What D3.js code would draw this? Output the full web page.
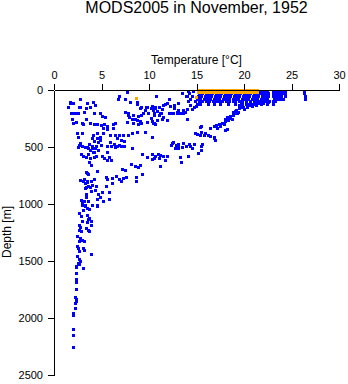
<!DOCTYPE html>
<html>
<head>
<meta charset="utf-8">
<script src="https://cdn.jsdelivr.net/npm/d3@7"></script>
<style>
  body { margin: 0; background: #fff; }
  svg { display: block; font-family: "Liberation Sans", Arial, sans-serif; }
</style>
</head>
<body>
<div id="chart"></div>
<script>
// 图表标题与坐标轴
const title = "MODS2005 in November, 1952";
const xLabel = "Temperature [°C]";
const yLabel = "Depth [m]";
const tempTicks = [0, 5, 10, 15, 20, 25, 30];
const depthTicks = [0, 500, 1000, 1500, 2000, 2500];

// 表层密集区: [depth, [temperatures...]]
const surfaceRows = [
  [5, [14.1, 14.6, 21.5, 21.8, 22.1, 22.4, 23.1, 23.4, 23.7, 24.0, 24.3, 26.3]],
  [25, [14.2, 15.3, 15.6, 16.0, 16.3, 16.6, 17.0, 17.3, 17.6, 18.0, 18.3, 18.6, 19.0, 19.3, 19.6, 20.0, 20.3, 20.6, 21.0, 21.3, 21.6, 21.9, 22.2, 22.5, 23.1, 23.4, 23.7, 24.0, 24.3, 26.3]],
  [50, [14.0, 14.5, 15.2, 15.5, 15.9, 16.2, 16.5, 16.9, 17.2, 17.5, 17.9, 18.2, 18.5, 18.9, 19.2, 19.5, 19.9, 20.2, 20.5, 20.9, 21.2, 21.5, 21.9, 22.2, 22.5, 23.0, 23.3, 23.6, 23.9, 24.3, 26.4]],
  [75, [14.3, 15.1, 15.4, 15.8, 16.1, 16.4, 16.8, 17.1, 17.4, 17.8, 18.1, 18.4, 18.8, 19.1, 19.4, 19.8, 20.1, 20.4, 20.8, 21.1, 21.4, 21.8, 22.1, 22.4, 23.2, 23.5, 23.8, 24.1, 26.4]],
  [100, [14.1, 14.8, 15.3, 15.6, 16.0, 16.3, 16.7, 17.0, 17.4, 17.7, 18.1, 18.4, 18.8, 19.1, 19.5, 19.8, 20.2, 20.6, 21.0, 21.4, 21.7, 22.0, 22.3, 22.6, 23.0, 23.3]],
  [120, [15.0, 15.4, 16.2, 16.8, 17.5, 18.3, 19.0, 19.7, 20.4, 21.2, 21.8, 22.4, 23.0]]
];

// 温跃层 [temperature, depth]
const thermocline = [
  [21.0,110],[20.6,115],[20.2,120],[19.8,125],[19.5,135],[21.3,130],[20.8,140],[20.3,150],[19.9,150],[19.5,160],
  [19.2,175],[19.4,190],[20.0,165],[19.0,205],[18.8,215],[18.5,225],[18.2,235],[18.5,245],[18.7,255],[18.3,265],
  [18.0,275],[17.7,290],[17.4,300],[17.1,305],[16.8,315],[17.5,320],[17.2,330],[16.4,330],[15.5,315],[18.2,345],
  [18.0,350],[15.0,390],[15.4,395],[15.8,395],[16.8,425],[16.9,435],[15.4,322],[15.5,365],[15.9,380],[16.2,395],
  [14.8,380],[16.4,405],[16.8,410],[15.55,476],[15.5,488],[15.5,526],[15.2,555],
  [19.8,140],[20.5,130],[19.0,185],[18.8,195],[19.6,145],[20.9,120],[21.5,115],[22.0,112],[22.5,108],[19.3,200],
  [18.0,255],[17.9,300],[17.0,320],[14.3,130],[14.7,150],[14.5,170],[14.9,140],
  [10.7,53],[12.1,82],[13.5,29],[13.9,53],[11.7,123],[10.3,140],[10.6,155],[11.0,150],[11.4,165],[10.4,175],
  [10.8,185],[11.2,200],[10.5,215],[11.0,220],[12.1,200],[12.5,200],[12.9,195],[13.3,200],[13.6,200],[12.2,140],
  [12.6,160],[13.0,175],[13.6,175],[14.0,170],[13.8,190],[11.4,252],[14.0,252],[10.5,287],[10.6,300],[10.3,410],
  [8.7,123],[9.8,146],[10.6,146],[11.5,130],[11.9,117],[12.6,132],[13.1,117],[9.4,204],[9.9,204],[10.5,204],
  [11.3,199],[12.2,204],[12.9,204],[7.5,190],[7.8,215],[8.2,250],[7.65,278],[8.7,263],[9.2,292],[9.75,278],
  [10.45,292],[10.8,263],[11.5,234],[11.9,263],[8.3,290],[8.8,300],[9.0,290],[9.6,366],[7.8,200],[8.3,215],
  [8.8,230],[9.2,215],[8.5,250],[7.9,240],[9.0,270],[9.2,150],[9.7,150],[10.2,155],[10.4,170],[9.6,175],
  [10.2,243],[10.35,272],[12.4,462],[13.0,470],[13.6,468],[14.2,472],[14.7,476],[12.5,455],[12.8,480],[13.0,495],
  [12.3,480],[12.7,505],[13.1,510],[13.5,500],[13.9,495],[14.3,490],[14.5,505],[10.3,560],[10.6,575],[10.9,560],
  [11.2,570],[11.5,580],[11.9,575],[10.5,600],[11.0,595],[13.3,585],[14.1,576],[11.7,614],[13.4,634],[11.2,664]
];

// 上层西侧散点 [temperature, depth]
const upperWest = [
  [7.65,9],[7.7,18],[6.8,53],[6.7,82],[7.5,82],[8.0,105],[8.7,105],[9.0,155],[2.75,82],[1.65,103],
  [1.7,111],[1.95,111],[3.5,111],[4.15,103],[4.3,132],[1.5,146],[2.6,149],[2.75,152],[3.4,155],[3.8,149],
  [3.15,190],[4.25,204],[4.85,204],[5.0,228],[1.8,204],[2.2,202],[2.5,202],[1.97,199],[5.35,237],[1.85,257],
  [2.0,292],[2.3,278],[2.9,292],[3.4,257],[3.8,287],[3.05,301],[4.2,301],[4.5,295],[4.9,305],[5.3,300],
  [5.6,315],[6.2,300],[6.4,290],[5.2,335],[5.6,340],[6.2,330],[2.4,380],[2.9,380],[4.1,395],[4.5,380],
  [4.85,410],[5.2,380],[5.9,395],[6.4,395],[6.8,395],[7.3,395],[7.8,395],[8.2,380],[8.7,366],[4.5,420],
  [4.8,440],[4.6,460],[4.9,480],[4.4,495],[6.6,420],[7.1,440],[7.4,450],[2.75,467],[2.55,497],[3.45,497],
  [3.8,526],[4.1,540],[5.9,455],[6.3,470],[6.8,480],[7.0,495],[8.2,511],[4.0,420],[4.2,450],[2.5,410]
];

// 中层 [temperature, depth]
const midWest = [
  [2.6,485],[2.9,490],[3.3,500],[3.6,505],[4.0,510],[3.7,475],[4.0,495],[4.3,510],[4.6,530],[4.2,540],
  [5.6,490],[6.0,495],[6.4,500],[6.6,490],[7.4,490],[8.25,510],[5.6,546],[2.8,565],[3.1,575],[3.4,590],
  [3.8,600],[4.2,590],[4.4,575],[3.6,565],[3.7,630],[3.9,660],[5.05,580],[5.3,600],[5.6,615],[5.8,590],
  [6.0,614],[9.3,561],[9.8,590],[10.3,605],[8.1,650],[8.5,665],[8.8,675],[9.1,660],[7.2,695],[7.5,705],
  [9.3,737],[8.6,765],[8.6,795],[3.35,720],[3.6,740],[3.5,730],[4.55,713],[5.45,765],[6.5,750],[7.0,795],
  [4.2,780],[3.2,780],[3.5,800],[3.3,820],[3.6,840],[3.4,855],[4.4,840],[5.45,840],[6.1,818],[3.85,883],
  [4.6,910],[4.8,935],[3.35,915],[3.35,940],[5.1,898],[5.8,898],[2.75,790],[3.1,800],[3.5,810],[4.0,830],
  [3.9,800],[5.55,780],[6.1,775],[6.8,785],[7.3,770],[7.6,760],[3.3,860],[3.8,855],[4.3,880]
];

// 深层 [temperature, depth]
const deep = [
  [2.8,965],[3.2,970],[3.6,975],[4.55,960],[5.2,970],[5.8,960],[2.95,1005],[3.3,1020],[3.5,1035],[4.0,1005],
  [4.5,1020],[2.6,1080],[2.8,1105],[3.5,1095],[3.7,1120],[3.85,1145],[3.6,1130],[2.6,1180],[2.75,1200],[2.65,1225],
  [2.8,1240],[3.35,1210],[3.6,1230],[3.7,1240],[2.45,1285],[2.7,1300],[2.95,1320],[2.6,1325],[3.15,1327],[2.45,1370],
  [2.6,1410],[2.5,1390],[3.0,1385],[3.15,1400],[3.85,1438],[2.45,1460],[2.6,1480],[2.75,1500],[2.5,1520],[2.6,1530],
  [2.3,1547],[2.3,1555],[3.0,1560],[2.35,1602],[2.3,1655],[2.35,1685],[2.3,1743],[2.2,1820],[2.3,1835],[2.35,1850],
  [2.25,1865],[2.2,1910],[1.95,1955],[2.0,1975],[1.95,2095],[1.95,2145],[2.0,2255],[2.9,990],[3.3,1010],[3.7,1040],
  [3.0,1050],[4.5,1010],[2.9,1150],[3.5,1160],[3.9,1180]
];

// 橙色观测 (表层)
const orangeTemps = [15.2, 15.5, 15.8, 16.1, 16.4, 16.7, 17.0, 17.3, 17.6, 17.9, 18.2, 18.5, 18.8, 19.1, 19.4, 19.7, 20.0, 20.3, 20.6, 20.9, 21.2, 21.4];
const orangeDepths = [0, 15];
const orangeExtra = [[8.6, 70], [14.9, 60]];

const width = 348, height = 384;
const svg = d3.select("#chart").append("svg")
  .attr("width", width).attr("height", height);

const x = d3.scaleLinear().domain([0, 30]).range([54, 339]);
const y = d3.scaleLinear().domain([0, 2500]).range([90, 375]);

const blue = surfaceRows.flatMap(([d, ts]) => ts.map(t => [t, d]))
  .concat(thermocline, upperWest, midWest, deep);
const orange = orangeDepths.flatMap(d => orangeTemps.map(t => [t, d])).concat(orangeExtra);

function drawPoints(data, color) {
  svg.append("g")
    .attr("fill", color)
    .attr("shape-rendering", "crispEdges")
    .selectAll("rect")
    .data(data)
    .join("rect")
    .attr("x", d => Math.round(x(d[0])) - 1.5)
    .attr("y", d => Math.round(y(d[1])) - 1.5)
    .attr("width", 3)
    .attr("height", 3);
}
drawPoints(blue, "#0000ff");
drawPoints(orange, "#ffa500");

const xAxis = svg.append("g")
  .attr("transform", "translate(0,90)")
  .call(d3.axisTop(x).tickValues(tempTicks).tickSize(6).tickSizeOuter(0).tickPadding(5));
const yAxis = svg.append("g")
  .attr("transform", "translate(54,0)")
  .call(d3.axisLeft(y).tickValues(depthTicks).tickFormat(d3.format("d"))
    .tickSize(6).tickSizeOuter(0).tickPadding(5));
[xAxis, yAxis].forEach(a => {
  a.selectAll("text").attr("font-size", 11).attr("fill", "#000").attr("font-family", null);
  a.selectAll("path, line").attr("stroke", "#000").attr("shape-rendering", "crispEdges");
});

svg.append("text")
  .attr("x", 196.5).attr("y", 13)
  .attr("text-anchor", "middle")
  .attr("font-size", 16)
  .text(title);

svg.append("text")
  .attr("x", 196.5).attr("y", 64)
  .attr("text-anchor", "middle")
  .attr("font-size", 12)
  .text(xLabel);

svg.append("text")
  .attr("transform", "translate(11,232) rotate(-90)")
  .attr("text-anchor", "middle")
  .attr("font-size", 12)
  .text(yLabel);
</script>
</body>
</html>
